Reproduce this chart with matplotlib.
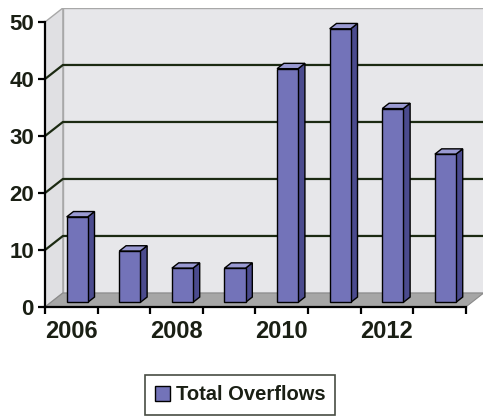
import matplotlib.pyplot as plt
from matplotlib.patches import Polygon, Rectangle

years = ['2006', '2007', '2008', '2009', '2010', '2011', '2012', '2013']
overflows = [15, 9, 6, 6, 41, 48, 34, 26]
yticks = [0, 10, 20, 30, 40, 50]
shown_labels = ['2006', '2008', '2010', '2012']

ink = '#1a1f14'
grid_col = '#1c2a12'
front_col = '#7373b9'
side_col = '#4b4b8e'
top_col = '#9a9ad2'

# depth offset of the fake 3d box, in data units
dx, dy = 0.34, 2.46
f0, fd = 0.33, 0.38   # bar front position and bar depth (fraction of box depth)
bw = 0.40

plt.rcParams['font.family'] = ['Liberation Sans', 'DejaVu Sans']

fig = plt.figure(figsize=(4.83, 4.17), dpi=100)
ax = fig.add_axes([45 / 483, 110 / 417, 438 / 483, 299 / 417])
n = len(years)
ax.set_xlim(0, 438 / 52.6)
ax.set_ylim(0, 299 / 5.7)

# walls and floor
ax.add_patch(Polygon([(dx, dy), (n + dx, dy), (n + dx, 50 + dy), (dx, 50 + dy)],
                     closed=True, facecolor='#e7e7ea', edgecolor='#a8a8a8', lw=1, zorder=0))
ax.add_patch(Polygon([(0, 0), (dx, dy), (dx, 50 + dy), (0, 50)],
                     closed=True, facecolor='#e0e0e3', edgecolor='#a8a8a8', lw=1, zorder=0))
ax.add_patch(Polygon([(0, 0), (n, 0), (n + dx, dy), (dx, dy)],
                     closed=True, facecolor='#a6a6a6', edgecolor='#8a8a8a', lw=0.8, zorder=1))

for v in yticks[1:-1]:
    ax.plot([0, dx, n + dx], [v, v + dy, v + dy], color=grid_col, lw=1.6, zorder=1)

# bars
for i, v in enumerate(overflows):
    x0 = i + 0.5 - bw / 2 + f0 * dx
    y0 = f0 * dy
    x1 = x0 + bw
    ddx, ddy = fd * dx, fd * dy
    ax.add_patch(Polygon([(x1, y0), (x1 + ddx, y0 + ddy), (x1 + ddx, v + y0 + ddy), (x1, v + y0)],
                         closed=True, facecolor=side_col, edgecolor='black', lw=1, zorder=3))
    ax.add_patch(Polygon([(x0, v + y0), (x1, v + y0), (x1 + ddx, v + y0 + ddy), (x0 + ddx, v + y0 + ddy)],
                         closed=True, facecolor=top_col, edgecolor='black', lw=1, zorder=3))
    ax.add_patch(Rectangle((x0, y0), bw, v, facecolor=front_col, edgecolor='black', lw=1, zorder=4))

for s in ['top', 'right']:
    ax.spines[s].set_visible(False)
ax.spines['left'].set_bounds(0, 50)
ax.spines['bottom'].set_bounds(0, n)
for s in ['left', 'bottom']:
    ax.spines[s].set_color('black')
    ax.spines[s].set_linewidth(1.6)
    ax.spines[s].set_zorder(5)

ax.set_yticks(yticks)
ax.set_yticklabels([str(t) for t in yticks], fontsize=16, fontweight='bold', color=ink)
ax.tick_params(axis='y', length=5, width=1.6, pad=3)

ax.set_xticks(range(n + 1))
ax.set_xticklabels([])
ax.tick_params(axis='x', which='major', length=5, width=1.6)
ax.set_xticks([0.5, 2.5, 4.5, 6.5], minor=True)
ax.set_xticklabels(shown_labels, minor=True, fontsize=17, fontweight='bold', color=ink)
ax.tick_params(axis='x', which='minor', length=0, pad=9)

handle = Rectangle((0, 0), 1, 1, facecolor=front_col, edgecolor='black', lw=1)
leg = fig.legend([handle], ['Total Overflows'], loc='center', bbox_to_anchor=(240 / 483, 1 - 395 / 417),
                 fancybox=False, frameon=True, handlelength=0.75, handleheight=0.75,
                 handletextpad=0.3, borderpad=0.5, borderaxespad=0,
                 prop={'size': 14.5, 'weight': 'bold'})
leg.get_frame().set_edgecolor(ink)
leg.get_frame().set_linewidth(1.2)
for t in leg.get_texts():
    t.set_color(ink)

fig.savefig('out.png', dpi=100, facecolor='white')
